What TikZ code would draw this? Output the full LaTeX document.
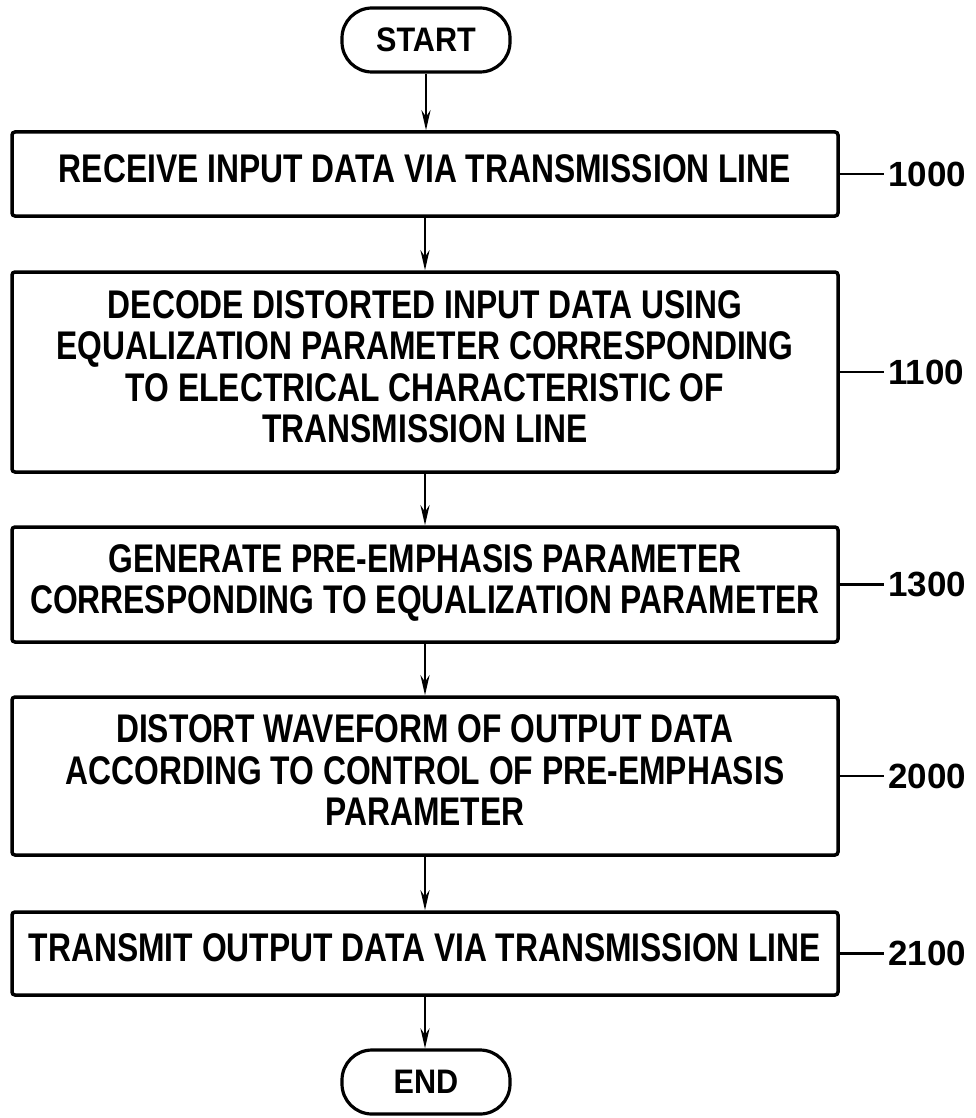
\documentclass[tikz,border=0pt]{standalone}
\usepackage{fontspec}
\setmainfont{Liberation Sans}
\usepackage{graphicx}
\usetikzlibrary{arrows.meta}
\newcommand{\boxtxt}[1]{\scalebox{0.795}[1]{\begin{tabular}{@{}c@{}}#1\end{tabular}}}
\newcommand{\termtxt}[1]{\scalebox{0.9}[1]{#1}}
\begin{document}
\begin{tikzpicture}[x=1pt,y=-1pt,
  stepbox/.style={draw, line width=3.5pt, rounded corners=3pt, minimum width=826pt, inner sep=0pt, font=\fontsize{40}{41.5}\selectfont\bfseries},
  term/.style={draw, line width=3.2pt, rounded corners=30pt, minimum width=168pt, minimum height=64pt, inner sep=0pt, font=\fontsize{34}{40}\selectfont\bfseries},
  arr/.style={line width=2.7pt, -{Stealth[length=20pt,width=9pt]}},
  lead/.style={line width=2.2pt},
  lab/.style={font=\fontsize{35}{40}\selectfont\bfseries, inner sep=4pt, anchor=west}]
\useasboundingbox (0,0) rectangle (975,1118);
\node[term] (start) at (426,40) {\termtxt{START}};
\node[stepbox, minimum height=84pt] (b1000) at (425,174) {\boxtxt{RECEIVE INPUT DATA VIA TRANSMISSION LINE}};
\node[stepbox, minimum height=200pt] (b1100) at (425,372) {\boxtxt{DECODE DISTORTED INPUT DATA USING\\EQUALIZATION PARAMETER CORRESPONDING\\TO ELECTRICAL CHARACTERISTIC OF\\TRANSMISSION LINE}};
\node[stepbox, minimum height=115pt] (b1300) at (425,584.5) {\boxtxt{GENERATE PRE-EMPHASIS PARAMETER\\CORRESPONDING TO EQUALIZATION PARAMETER}};
\node[stepbox, minimum height=158pt] (b2000) at (425,776) {\boxtxt{DISTORT WAVEFORM OF OUTPUT DATA\\ACCORDING TO CONTROL OF PRE-EMPHASIS\\PARAMETER}};
\node[stepbox, minimum height=83pt] (b2100) at (425,953.5) {\boxtxt{TRANSMIT OUTPUT DATA VIA TRANSMISSION LINE}};
\node[term] (end) at (426,1082) {\termtxt{END}};
\draw[arr] (start.south) -- (start.south |- b1000.north);
\draw[arr] (b1000.south) -- (b1100.north);
\draw[arr] (b1100.south) -- (b1300.north);
\draw[arr] (b1300.south) -- (b2000.north);
\draw[arr] (b2000.south) -- (b2100.north);
\draw[arr] (b2100.south) -- (b2100.south |- end.north);
\node[lab] (l1000) at (884,174) {1000};
\node[lab] (l1100) at (884,372) {1100};
\node[lab] (l1300) at (884,584.5) {1300};
\node[lab] (l2000) at (884,776) {2000};
\node[lab] (l2100) at (884,953.5) {2100};
\draw[lead] (b1000.east) -- (l1000.west);
\draw[lead] (b1100.east) -- (l1100.west);
\draw[lead] (b1300.east) -- (l1300.west);
\draw[lead] (b2000.east) -- (l2000.west);
\draw[lead] (b2100.east) -- (l2100.west);
\end{tikzpicture}
\end{document}
